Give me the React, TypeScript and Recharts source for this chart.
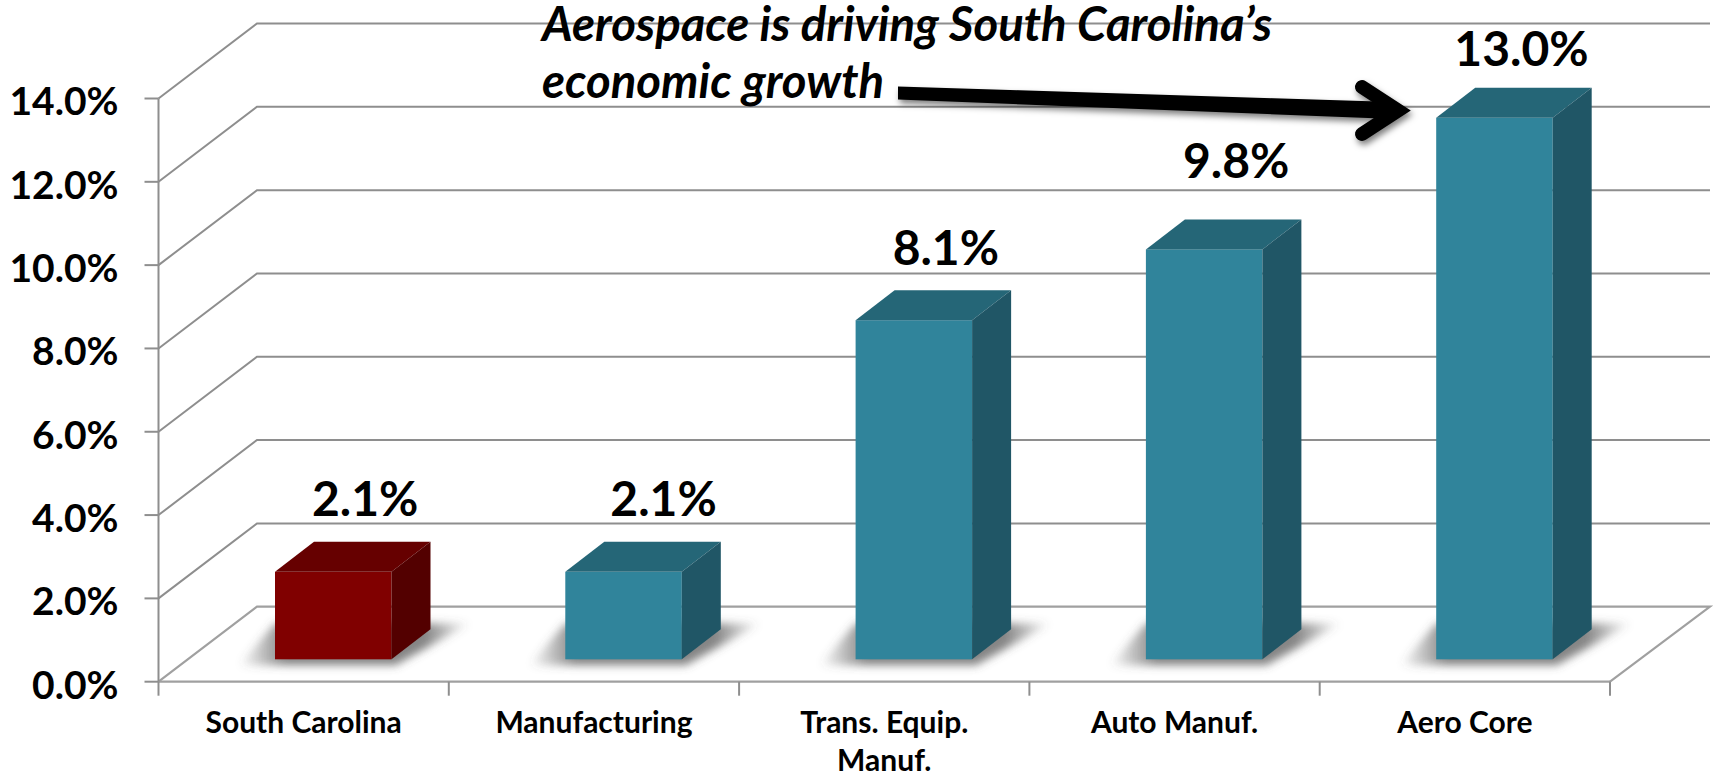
import { Bar, CartesianGrid, Cell, ComposedChart, LabelList, XAxis, YAxis } from 'recharts'

const categories = ['South Carolina', 'Manufacturing', 'Trans. Equip. Manuf.', 'Auto Manuf.', 'Aero Core']
const categoryLines = [['South Carolina'], ['Manufacturing'], ['Trans. Equip.', 'Manuf.'], ['Auto Manuf.'], ['Aero Core']]
const growth = [2.1, 2.1, 8.14, 9.84, 13.0]
const yTicks = [0, 2, 4, 6, 8, 10, 12, 14]
const noteLines = ['Aerospace is driving South Carolina’s', 'economic growth']

const data = categories.map((name, i) => ({ name, growth: growth[i] }))

const FONT = 'Lato, Carlito, sans-serif'
const GRID = '#8e8e8e'
const FRONT = ['#800000', '#30849b', '#30849b', '#30849b', '#30849b']
const SIDE = ['#530000', '#205666', '#205666', '#205666', '#205666']
const TOP = ['#660000', '#256677', '#256677', '#256677', '#256677']
const LABEL_DX = [32, 40, 32, 32, 27]
const LABEL_DY = [-2, -2, -1, -17, 2]

// 3d offsets of the walls and of the columns standing on the floor
const WALL_DX = 98.5
const WALL_DY = 75
const BAR_DX = 29.5
const BAR_DY = 22.4
const DEPTH_DX = 39
const DEPTH_DY = 30
const SLOT = 290.3

function WallLine(props: any) {
  const { x1, x2, y1 } = props
  const floor = y1 > 600
  return (
    <path
      d={`M${x1} ${y1}L${x1 + WALL_DX} ${y1 - WALL_DY}L${x2 + 100} ${y1 - WALL_DY}${floor ? `L${x2} ${y1}` : ''}`}
      fill="none"
      stroke={floor ? '#a0a0a0' : GRID}
      strokeWidth={floor ? 2.2 : 2}
    />
  )
}

function Column(props: any) {
  const { x, y, width, height, index } = props
  const l = x + BAR_DX
  const r = l + width
  const t = y - BAR_DY
  const b = t + height
  return (
    <g>
      <path
        d={`M${l - 36} ${b + 6}L${r + 4} ${b + 6}L${r + DEPTH_DX + 40} ${b - DEPTH_DY - 6}L${l} ${b - DEPTH_DY - 6}Z`}
        fill="url(#shadowFade)"
        filter="url(#shadowBlur)"
      />
      <rect x={l} y={t} width={width} height={height} fill={FRONT[index]} />
      <path d={`M${l} ${t}L${l + DEPTH_DX} ${t - DEPTH_DY}L${r + DEPTH_DX} ${t - DEPTH_DY}L${r} ${t}Z`} fill={TOP[index]} />
      <path d={`M${r} ${t}L${r + DEPTH_DX} ${t - DEPTH_DY}L${r + DEPTH_DX} ${b - DEPTH_DY}L${r} ${b}Z`} fill={SIDE[index]} />
    </g>
  )
}

function ValueLabel(props: any) {
  const { x, y, width, value, index } = props
  return (
    <text
      x={x + width / 2 + BAR_DX + LABEL_DX[index]}
      y={y - BAR_DY - DEPTH_DY - 24 + LABEL_DY[index]}
      textAnchor="middle"
      fontFamily={FONT}
      fontWeight={700}
      fontSize={48}
      fill="#000"
    >
      {`${Number(value).toFixed(1)}%`}
    </text>
  )
}

// ticks sit on the category boundaries, the label in the middle
function CategoryTick(props: any) {
  const { x, payload, index } = props
  const tickX = x - SLOT / 2
  const lines = categoryLines[payload.index ?? index]
  return (
    <g>
      <line x1={tickX} x2={tickX} y1={681.7} y2={695.7} stroke={GRID} strokeWidth={2} />
      {index === categories.length - 1 && (
        <line x1={tickX + SLOT} x2={tickX + SLOT} y1={681.7} y2={695.7} stroke={GRID} strokeWidth={2} />
      )}
      <text textAnchor="middle" fontFamily={FONT} fontWeight={700} fontSize={30} fill="#000">
        {lines.map((line, i) => (
          <tspan key={line} x={x} y={733 + i * 38}>{line}</tspan>
        ))}
      </text>
    </g>
  )
}

export default function App() {
  return (
    <div style={{ position: 'absolute', left: 0, top: 0, width: 1716, height: 776 }}>
      <ComposedChart
        width={1716}
        height={776}
        data={data}
        margin={{ top: 98.5, right: 106, bottom: 0, left: 0 }}
      >
        <defs>
          <linearGradient id="shadowFade" x1="0" x2="1" y1="0" y2="0">
            <stop offset="0" stopColor="#555" stopOpacity="0" />
            <stop offset="0.2" stopColor="#555" stopOpacity="0.72" />
            <stop offset="0.8" stopColor="#555" stopOpacity="0.72" />
            <stop offset="1" stopColor="#555" stopOpacity="0" />
          </linearGradient>
          <filter id="shadowBlur" x="-30%" y="-30%" width="160%" height="160%">
            <feGaussianBlur stdDeviation="4" />
          </filter>
          <filter id="arrowShadow" x="-5%" y="-50%" width="110%" height="200%">
            <feDropShadow dx="2" dy="4" stdDeviation="3" floodColor="#000" floodOpacity="0.5" />
          </filter>
        </defs>
        <CartesianGrid vertical={false} horizontal={(p: any) => <WallLine key={p.index} {...p} />} />
        <XAxis
          dataKey="name"
          height={94.3}
          stroke="#a0a0a0"
          strokeWidth={2.2}
          tickLine={false}
          tickSize={14}
          tickMargin={16}
          tick={<CategoryTick />}
          interval={0}
        />
        <YAxis
          domain={[0, 14]}
          ticks={yTicks}
          width={158.5}
          stroke={GRID}
          strokeWidth={2}
          tickSize={14}
          tickMargin={26}
          tickFormatter={(v: number) => `${v.toFixed(1)}%`}
          tick={{ fontFamily: FONT, fontWeight: 700, fontSize: 39, fill: '#000', dy: 3 }}
        />
        <Bar dataKey="growth" barSize={116.5} shape={<Column />} isAnimationActive={false}>
          {data.map((_, i) => <Cell key={i} fill={FRONT[i]} />)}
          <LabelList dataKey="growth" content={<ValueLabel />} />
        </Bar>
        <g filter="url(#arrowShadow)">
          <path d="M898 86.5L1394 102L1394 119L898 99.5Z" fill="#000" />
          <path d="M1362 87L1398 110.5L1362 134" stroke="#000" strokeWidth={14} strokeLinecap="round" strokeLinejoin="miter" fill="none" />
        </g>
        {noteLines.map((line, i) => (
          <text key={line} x={542} y={41 + i * 57} fontFamily={FONT} fontStyle="italic" fontWeight={700} fontSize={47.3} fill="#000">
            {line}
          </text>
        ))}
      </ComposedChart>
    </div>
  )
}
